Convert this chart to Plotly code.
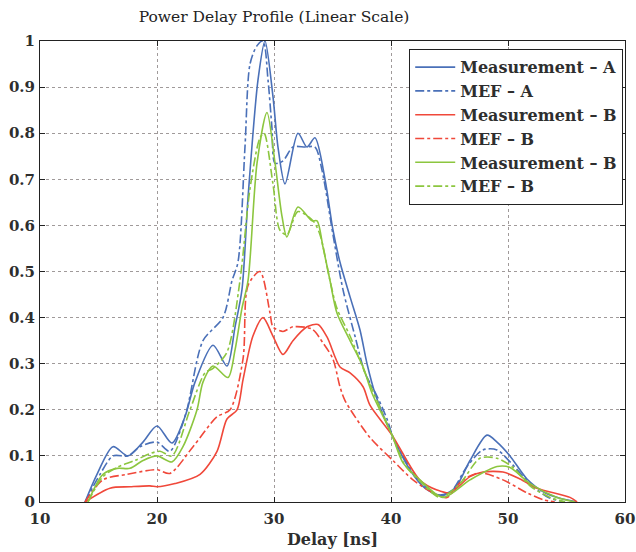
import plotly.graph_objects as go

# ---- data ----
meas_a_x = [13.85, 14.87, 16.24, 17.52, 18.8, 20.0, 21.28, 22.39, 23.25, 24.79, 25.98, 26.67, 27.26, 27.78,
            28.63, 29.23, 29.91, 30.34, 30.94, 32.05, 32.82, 33.5, 34.36, 35.04, 35.64, 36.5, 37.35, 37.95,
            38.63, 40.09, 41.62, 42.9, 44.19, 45.47, 46.75, 48.2, 49.06, 50.17, 51.62, 53.16, 54.44, 55.9]
meas_a_y = [0.0, 0.06, 0.12, 0.10, 0.13, 0.165, 0.128, 0.185, 0.26, 0.34, 0.295, 0.38, 0.46, 0.66,
            0.915, 1.0, 0.88, 0.77, 0.69, 0.80, 0.77, 0.79, 0.70, 0.59, 0.52, 0.445, 0.373, 0.30,
            0.236, 0.145, 0.07, 0.03, 0.015, 0.03, 0.09, 0.145, 0.13, 0.10, 0.05, 0.02, 0.008, 0.0]

mef_a_x = [13.85, 15.13, 16.24, 17.52, 18.55, 20.0, 21.1, 22.56, 22.82, 23.93, 25.64, 26.41, 26.92, 27.52,
           27.95, 28.55, 29.06, 29.49, 29.83, 30.09, 30.77, 31.62, 32.65, 33.5, 34.1, 35.04, 35.9, 36.92,
           37.78, 38.8, 39.66, 40.34, 42.48, 43.93, 45.04, 46.5, 47.86, 49.06, 50.43, 51.88, 53.42, 54.87]
mef_a_y = [0.0, 0.06, 0.10, 0.10, 0.12, 0.13, 0.11, 0.20, 0.23, 0.35, 0.40, 0.48, 0.52, 0.77,
           0.95, 0.99, 1.0, 0.915, 0.81, 0.735, 0.74, 0.77, 0.77, 0.77, 0.72, 0.58, 0.46, 0.36,
           0.28, 0.23, 0.18, 0.13, 0.045, 0.015, 0.02, 0.077, 0.113, 0.113, 0.08, 0.04, 0.01, 0.0]

meas_b_x = [13.85, 15.98, 17.69, 19.4, 20.0, 21.54, 23.68, 25.13, 25.98, 26.84, 27.35, 28.2, 29.06, 29.91,
            30.77, 31.62, 32.82, 33.76, 34.53, 35.64, 36.5, 37.61, 38.2, 40.09, 42.48, 43.93, 45.04,
            46.75, 47.86, 49.57, 51.03, 52.48, 55.3, 55.9]
meas_b_y = [0.0, 0.03, 0.033, 0.035, 0.033, 0.04, 0.06, 0.11, 0.18, 0.20, 0.265, 0.36, 0.40, 0.36,
            0.32, 0.35, 0.38, 0.385, 0.358, 0.293, 0.28, 0.25, 0.21, 0.145, 0.047, 0.026, 0.02,
            0.055, 0.065, 0.065, 0.05, 0.03, 0.01, 0.0]

mef_b_x = [13.85, 15.38, 17.44, 20.0, 21.1, 23.08, 25.13, 26.24, 27.35, 27.78, 28.8, 29.66, 29.91, 30.77,
           31.62, 33.25, 34.19, 35.04, 35.64, 36.07, 38.2, 40.17, 41.88, 43.93, 44.79, 46.15, 47.6,
           49.57, 51.62, 52.99, 54.0]
mef_b_y = [0.0, 0.048, 0.06, 0.07, 0.062, 0.12, 0.185, 0.20, 0.31, 0.47, 0.50, 0.41, 0.38, 0.37,
           0.38, 0.375, 0.345, 0.31, 0.25, 0.22, 0.14, 0.09, 0.048, 0.015, 0.01, 0.048, 0.063,
           0.048, 0.02, 0.005, 0.0]

meas_c_x = [14.1, 15.38, 16.58, 17.69, 18.8, 20.0, 21.28, 22.22, 23.42, 23.93, 24.79, 26.07, 26.67, 27.26,
            27.78, 28.55, 29.4, 30.09, 30.68, 31.1, 32.05, 33.25, 33.68, 34.19, 34.79, 35.38, 36.5,
            37.61, 38.38, 40.09, 41.03, 42.48, 44.44, 46.75, 49.06, 50.17, 51.88, 54.19, 55.73]
meas_c_y = [0.0, 0.06, 0.073, 0.073, 0.09, 0.10, 0.087, 0.12, 0.20, 0.26, 0.295, 0.27, 0.33, 0.42,
            0.48, 0.735, 0.845, 0.735, 0.62, 0.575, 0.64, 0.61, 0.61, 0.553, 0.48, 0.41, 0.35,
            0.293, 0.236, 0.145, 0.085, 0.048, 0.01, 0.048, 0.077, 0.075, 0.04, 0.01, 0.0]

mef_c_x = [14.1, 15.38, 16.58, 18.1, 19.4, 20.26, 21.28, 22.82, 24.1, 24.79, 25.98, 27.09, 27.95, 28.8,
           29.15, 29.91, 30.5, 31.1, 32.05, 33.33, 33.93, 34.79, 35.38, 36.5, 37.78, 40.09, 41.2,
           42.48, 44.19, 45.9, 47.6, 49.06, 50.43, 51.88, 53.59, 54.87]
mef_c_y = [0.0, 0.055, 0.075, 0.09, 0.105, 0.11, 0.10, 0.20, 0.28, 0.29, 0.325, 0.48, 0.68, 0.79,
           0.80, 0.69, 0.59, 0.58, 0.63, 0.61, 0.58, 0.48, 0.42, 0.36, 0.28, 0.145, 0.08,
           0.045, 0.01, 0.04, 0.095, 0.095, 0.075, 0.035, 0.01, 0.0]

x_ticks = [10, 20, 30, 40, 50, 60]
y_ticks = [0, 0.1, 0.2, 0.3, 0.4, 0.5, 0.6, 0.7, 0.8, 0.9, 1]
y_tick_text = ["0", "0.1", "0.2", "0.3", "0.4", "0.5", "0.6", "0.7", "0.8", "0.9", "1"]

BLUE = "#4a70b8"
RED = "#f0483a"
GREEN = "#8cc63f"

series = [
    ("Measurement \u2013 A", meas_a_x, meas_a_y, BLUE, "solid"),
    ("MEF \u2013 A", mef_a_x, mef_a_y, BLUE, "dashdot"),
    ("Measurement \u2013 B", meas_b_x, meas_b_y, RED, "solid"),
    ("MEF \u2013 B", mef_b_x, mef_b_y, RED, "dashdot"),
    ("Measurement \u2013 B", meas_c_x, meas_c_y, GREEN, "solid"),
    ("MEF \u2013 B", mef_c_x, mef_c_y, GREEN, "dashdot"),
]

fig = go.Figure()
for name, xs, ys, col, dash in series:
    fig.add_trace(go.Scatter(x=xs, y=ys, mode="lines", name=name,
                             line=dict(color=col, width=1.6, dash=dash, shape="spline", smoothing=0.8)))

FONT = "DejaVu Serif"
TXT = "#2e2e2e"
axis_common = dict(
    showline=True, linecolor="#222222", linewidth=1, mirror="allticks",
    ticks="inside", ticklen=5, tickcolor="#222222",
    showgrid=True, gridcolor="#a09a9a", griddash="dot", gridwidth=1,
    zeroline=False, automargin=False,
    tickfont=dict(family=FONT, size=15, color=TXT, weight="bold"),
)

fig.update_layout(
    width=636, height=552,
    margin=dict(l=40, r=11, t=41, b=50),
    paper_bgcolor="white", plot_bgcolor="white",
    title=dict(text="Power Delay Profile (Linear Scale)", x=274 / 636, xanchor="center",
               y=1 - 17 / 552, yanchor="middle",
               font=dict(family=FONT, size=15.5, color="#222222", weight=500)),
    xaxis=dict(range=[10, 60], tickvals=x_ticks, ticktext=[str(v) for v in x_ticks],
               ticklabelstandoff=3, ticklabeloverflow="allow",
               title=dict(text="<b>Delay [ns]</b>", font=dict(family=FONT, size=16, color=TXT), standoff=6),
               **axis_common),
    yaxis=dict(range=[0, 1], tickvals=y_ticks, ticktext=y_tick_text, ticklabelstandoff=1,
               **axis_common),
    legend=dict(x=0.9966, y=0.9826, xanchor="right", yanchor="top",
                bgcolor="white", bordercolor="#222222", borderwidth=1.2,
                font=dict(family=FONT, size=16, color=TXT, weight="bold"),
                itemwidth=40, tracegroupgap=0),
    showlegend=True,
)

fig.write_html("out.html")
